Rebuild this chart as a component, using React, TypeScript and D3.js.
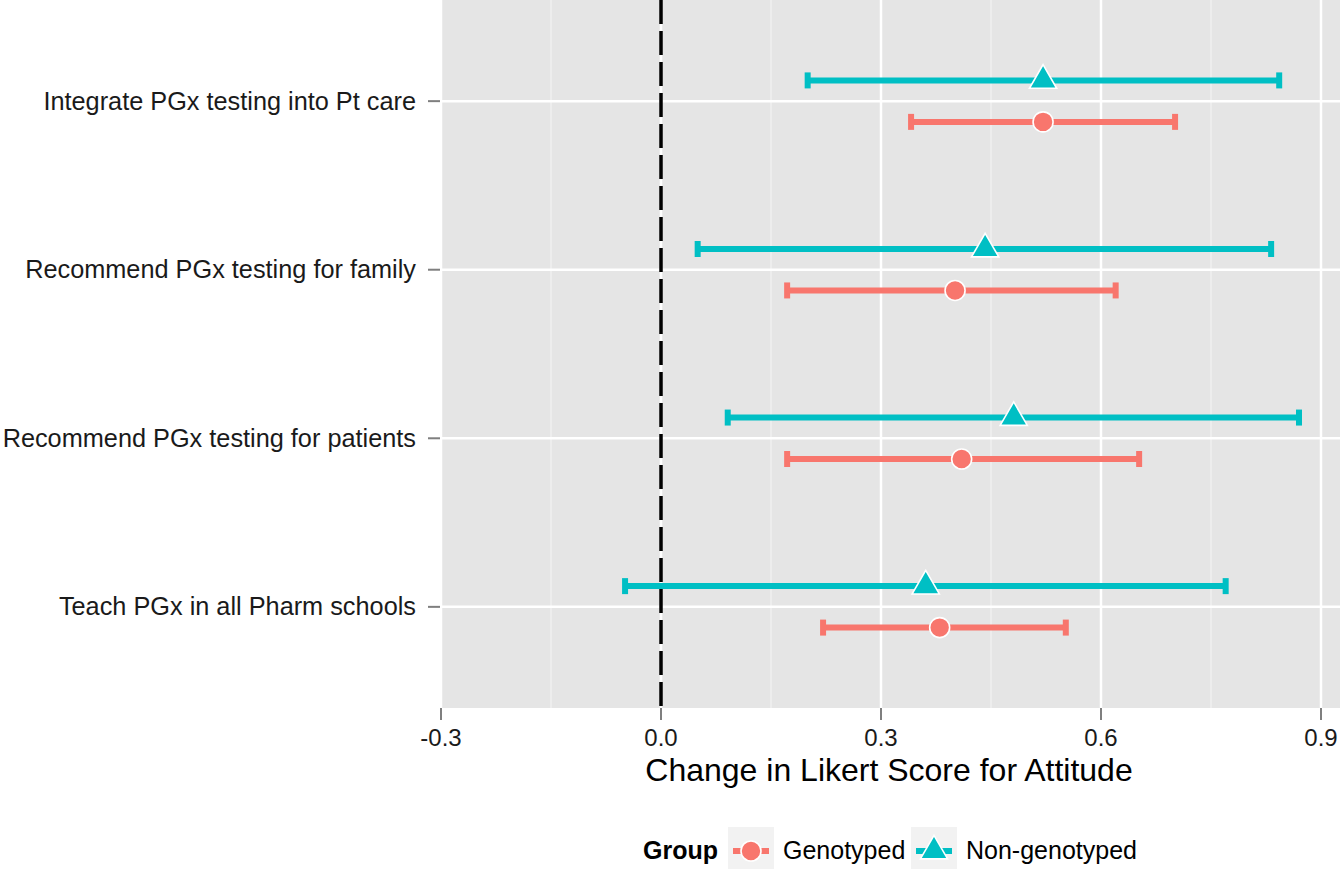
import * as d3 from "d3";
import { useEffect } from "react";

// items from top to bottom
const items = [
  "Integrate PGx testing into Pt care",
  "Recommend PGx testing for family",
  "Recommend PGx testing for patients",
  "Teach PGx in all Pharm schools",
];
const groups = ["Genotyped", "Non-genotyped"];

const genoMean = [0.521, 0.401, 0.41, 0.38];
const genoLow = [0.341, 0.172, 0.172, 0.221];
const genoHigh = [0.701, 0.62, 0.652, 0.552];

const nonMean = [0.521, 0.442, 0.481, 0.361];
const nonLow = [0.2, 0.05, 0.091, -0.049];
const nonHigh = [0.843, 0.832, 0.87, 0.77];

const xTicks = [-0.3, 0, 0.3, 0.6, 0.9];
const xMinor = [-0.15, 0.15, 0.45, 0.75];

const colors = { Genotyped: "#F8766D", "Non-genotyped": "#00BFC4" };
const font = "'Liberation Sans', Arial, sans-serif";

export default function App() {
  useEffect(() => {
    document.body.style.margin = "0";
  }, []);

  const width = 1340;
  const height = 869;
  const left = 440;
  const right = 1340;
  const top = 0;
  const bottom = 708;

  const x = d3.scaleLinear().domain([-0.3, 0.9]).range([441, 1321]);
  const y = d3
    .scalePoint<string>()
    .domain(items)
    .range([top, bottom])
    .padding(0.6);
  const step = y.step();
  const dodge = 0.123 * step;
  const fmt = (v: number) => d3.format(".1f")(v).replace("\u2212", "-");

  const series = [
    { name: "Non-genotyped", mean: nonMean, low: nonLow, high: nonHigh, off: -dodge },
    { name: "Genotyped", mean: genoMean, low: genoLow, high: genoHigh, off: dodge },
  ];

  const tri = d3.symbol().type(d3.symbolTriangle).size(320)();
  const lw = 6;

  return (
    <svg width={width} height={height} style={{ display: "block" }} fontFamily={font}>
      <rect x={left} y={top} width={right - left} height={bottom - top} fill="#e5e5e5" />
      {xMinor.map((v) => (
        <line key={"m" + v} x1={x(v)} x2={x(v)} y1={top} y2={bottom} stroke="#f2f2f2" strokeWidth={1.2} />
      ))}
      {xTicks.map((v) => (
        <line key={"g" + v} x1={x(v)} x2={x(v)} y1={top} y2={bottom} stroke="#fff" strokeWidth={2.5} />
      ))}
      {items.map((d) => (
        <line key={"h" + d} x1={left} x2={right} y1={y(d)} y2={y(d)} stroke="#fff" strokeWidth={2.5} />
      ))}
      <line x1={x(0)} x2={x(0)} y1={top} y2={bottom} stroke="#000" strokeWidth={3.5} strokeDasharray="24 7" />

      {series.map((s) => {
        const c = colors[s.name as keyof typeof colors];
        return (
          <g key={s.name}>
            {items.map((d, i) => {
              const cy = (y(d) as number) + s.off;
              const x0 = x(s.low[i]);
              const x1 = x(s.high[i]);
              return (
                <g key={d}>
                  <line x1={x0} x2={x1} y1={cy} y2={cy} stroke={c} strokeWidth={lw} />
                  <line x1={x0} x2={x0} y1={cy - 8} y2={cy + 8} stroke={c} strokeWidth={lw} />
                  <line x1={x1} x2={x1} y1={cy - 8} y2={cy + 8} stroke={c} strokeWidth={lw} />
                  {s.name === "Genotyped" ? (
                    <circle cx={x(s.mean[i])} cy={cy} r={10} fill={c} stroke="#fff" strokeWidth={1.6} />
                  ) : (
                    <path d={tri as string} transform={`translate(${x(s.mean[i])},${cy})`} fill={c} stroke="#fff" strokeWidth={1.6} />
                  )}
                </g>
              );
            })}
          </g>
        );
      })}

      {/* x axis */}
      {xTicks.map((v) => (
        <g key={"t" + v}>
          <line x1={x(v)} x2={x(v)} y1={bottom} y2={bottom + 12} stroke="#7f7f7f" strokeWidth={2} />
          <text x={x(v)} y={746} textAnchor="middle" fontSize={24} fill="#1a1a1a">
            {fmt(v)}
          </text>
        </g>
      ))}
      <text x={(left + right) / 2 - 1} y={781} textAnchor="middle" fontSize={32} fill="#000">
        Change in Likert Score for Attitude
      </text>

      {/* y axis */}
      {items.map((d) => (
        <g key={"y" + d}>
          <line x1={left - 12} x2={left} y1={y(d)} y2={y(d)} stroke="#7f7f7f" strokeWidth={2} />
          <text x={left - 24} y={(y(d) as number) + 8.5} textAnchor="end" fontSize={25.3} fill="#1a1a1a">
            {d}
          </text>
        </g>
      ))}

      {/* legend */}
      <g transform="translate(0,851)">
        <text x={643} y={8} fontSize={25} fontWeight="bold" fill="#000">Group</text>
        {groups.map((g, i) => {
          const kx = i === 0 ? 728 : 911;
          const c = colors[g as keyof typeof colors];
          return (
            <g key={g}>
              <rect x={kx} y={-24} width={46} height={47} fill="#f2f2f2" />
              <line x1={kx + 5} x2={kx + 41} y1={0} y2={0} stroke={c} strokeWidth={lw} />
              {i === 0 ? (
                <circle cx={kx + 23} cy={0} r={10} fill={c} stroke="#fff" strokeWidth={1.6} />
              ) : (
                <path d={tri as string} transform={`translate(${kx + 23},0)`} fill={c} stroke="#fff" strokeWidth={1.6} />
              )}
              <text x={kx + 55} y={8} fontSize={25} fill="#000">{g}</text>
            </g>
          );
        })}
      </g>
    </svg>
  );
}
